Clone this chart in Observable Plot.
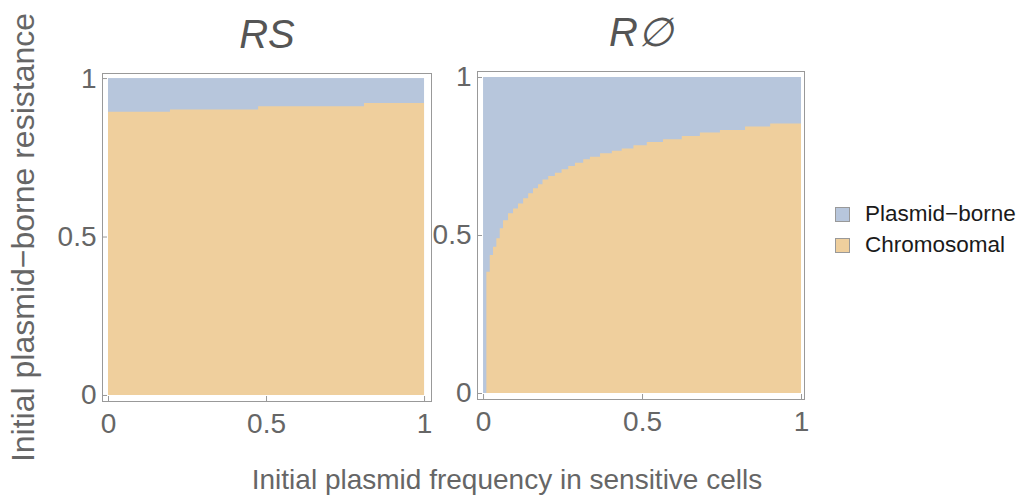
<!DOCTYPE html>
<html>
<head>
<meta charset="utf-8">
<script src="https://cdn.jsdelivr.net/npm/d3@7"></script>
<script src="https://cdn.jsdelivr.net/npm/@observablehq/plot@0.6"></script>
<style>
  body { margin: 0; background: #fff; }
  #wrap { position: relative; width: 1025px; height: 499px; overflow: hidden;
          font-family: "Liberation Sans", Arial, sans-serif; background: #fff; }
  .panel { position: absolute; top: 0; }
  #xlabel { position: absolute; left: 0; width: 1014px; top: 466px; text-align: center;
            font-size: 28px; line-height: 28px; color: #666; white-space: nowrap; }
  .leg { position: absolute; left: 835px; font-size: 22.5px; line-height: 22px; color: #1a1a1a; white-space: nowrap; }
  .leg .sw { position: absolute; left: 0; width: 13px; height: 13px; border: 1px solid #999; }
  .leg .lab { position: absolute; left: 30px; }
</style>
</head>
<body>
<div id="wrap"></div>
<script>
// ---- data ----
const panelTitles = ["RS", "R\u2205"];
const seriesNames = ["Plasmid\u2212borne", "Chromosomal"];
const seriesColors = ["#b7c6dc", "#efcf9d"];
const tickValues = [0, 0.5, 1];
const tickLabels = ["0", "0.5", "1"];
const xTitle = "Initial plasmid frequency in sensitive cells";
const yTitle = "Initial plasmid\u2212borne resistance";

// RS panel: boundary between chromosomal (below) and plasmid-borne (above)
const rsX = [0, 0.196, 0.475, 0.81, 1];
const rsY = [0.894, 0.901, 0.911, 0.921, 0.921];

// R∅ panel boundary
const r0X = [0, 0.0104, 0.0211, 0.0314, 0.0418, 0.0525, 0.0629, 0.0786, 0.0943, 0.110, 0.126, 0.142,
             0.157, 0.173, 0.187, 0.205, 0.226, 0.247, 0.268, 0.289, 0.315, 0.336, 0.368, 0.405,
             0.436, 0.473, 0.515, 0.566, 0.625, 0.682, 0.745, 0.824, 0.903, 1];
const r0Y = [0, 0.384, 0.437, 0.463, 0.490, 0.521, 0.547, 0.569, 0.584, 0.600, 0.616, 0.632,
             0.648, 0.661, 0.676, 0.687, 0.697, 0.708, 0.718, 0.729, 0.740, 0.748, 0.759, 0.767,
             0.774, 0.784, 0.794, 0.803, 0.813, 0.824, 0.832, 0.843, 0.853, 0.853];

const unitSquare = [{x1: 0, x2: 1, y1: 0, y2: 1}];
const fmt = d => tickLabels[tickValues.indexOf(d)];

function panel({title, bx, by, left, width, marginLeft, marginRight, marginTop, marginBottom, xDomain, yDomain, tickPad, withYTitle}) {
  const marks = [
    Plot.rect(unitSquare, {x1: "x1", x2: "x2", y1: "y1", y2: "y2", fill: seriesColors[0]}),
    Plot.areaY(by, {x: bx, y: by, curve: "step-after", fill: seriesColors[1]}),
    Plot.frame({stroke: "#999"}),
    Plot.axisX(tickValues, {tickSize: -5, tickPadding: 17, fontSize: 28, stroke: "#999", fill: "#666",
                            tickFormat: fmt, label: null}),
    Plot.axisY(tickValues, {tickSize: -5, tickPadding: tickPad, fontSize: 28, stroke: "#999", fill: "#666",
                            tickFormat: fmt, label: null}),
    Plot.text([title], {frameAnchor: "top", lineAnchor: "bottom", dy: -26, fontSize: 40,
                        fontStyle: "italic", fill: "#555"})
  ];
  if (withYTitle) {
    marks.push(Plot.text([yTitle], {frameAnchor: "left", textAnchor: "middle", lineAnchor: "bottom",
                                    rotate: -90, dx: -69, fontSize: 32, fill: "#666"}));
  }
  const svg = Plot.plot({
    width, height: 499, marginLeft, marginRight, marginTop, marginBottom,
    x: {domain: xDomain}, y: {domain: yDomain},
    style: {fontFamily: "Liberation Sans, Arial, sans-serif", background: "transparent", overflow: "visible"},
    marks
  });
  svg.classList.add("panel");
  svg.style.left = left + "px";
  return svg;
}

const wrap = document.getElementById("wrap");
wrap.appendChild(panel({title: panelTitles[0], bx: rsX, by: rsY, left: 0, width: 435,
  marginLeft: 102, marginRight: 4, marginTop: 73, marginBottom: 98,
  xDomain: [-0.019, 1.022], yDomain: [-0.019, 1.016], tickPad: 11, withYTitle: true}));
wrap.appendChild(panel({title: panelTitles[1], bx: r0X, by: r0Y, left: 420, width: 386,
  marginLeft: 57, marginRight: 2, marginTop: 71, marginBottom: 100,
  xDomain: [-0.019, 1.0094], yDomain: [-0.019, 1.019], tickPad: 11, withYTitle: false}));

const xl = document.createElement("div");
xl.id = "xlabel";
xl.textContent = xTitle;
wrap.appendChild(xl);

const legTops = [203, 234];
seriesNames.forEach((name, i) => {
  const row = document.createElement("div");
  row.className = "leg";
  row.style.top = legTops[i] + "px";
  const sw = document.createElement("div");
  sw.className = "sw";
  sw.style.top = "4px";
  sw.style.background = seriesColors[i];
  const lab = document.createElement("div");
  lab.className = "lab";
  lab.textContent = name;
  row.appendChild(sw);
  row.appendChild(lab);
  wrap.appendChild(row);
});
</script>
</body>
</html>
